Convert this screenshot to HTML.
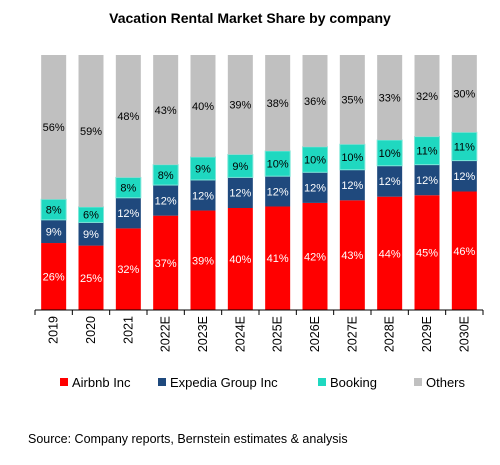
<!DOCTYPE html>
<html><head><meta charset="utf-8"><style>
body{margin:0;background:#fff;font-family:"Liberation Sans",Arial,sans-serif;}
#wrap{position:relative;width:500px;height:460px;}
</style></head><body>
<div id="wrap">
<svg id="chart" width="500" height="460">
<text x="250" y="23" text-anchor="middle" font-weight="bold" font-size="14" fill="#000">Vacation Rental Market Share by company</text>
<g id="bars"></g>
<g id="axis"></g>
<g id="legend"></g>
<text x="28" y="443" font-size="12.5" fill="#000">Source: Company reports, Bernstein estimates &amp; analysis</text>
</svg>
</div>
<script>
const categories=["2019","2020","2021","2022E","2023E","2024E","2025E","2026E","2027E","2028E","2029E","2030E"];
const airbnb=[26,25,32,37,39,40,41,42,43,44,45,46];
const expedia=[9,9,12,12,12,12,12,12,12,12,12,12];
const booking=[8,6,8,8,9,9,10,10,10,10,11,11];
const others=[56,59,48,43,40,39,38,36,35,33,32,30];
const seriesNames=["Airbnb Inc","Expedia Group Inc","Booking","Others"];
const seriesColors=["#ff0000","#1f497d","#1fd8c0","#c0c0c0"];
const labelColors=["#fff","#fff","#000","#000"];
const NS="http://www.w3.org/2000/svg";
const x0=35,x1=483,yBase=310,yTop=55;
const step=(x1-x0)/categories.length,bw=25;
const y=f=>yBase-f*(yBase-yTop);
function mk(t,a,p){const e=document.createElementNS(NS,t);for(const k in a)e.setAttribute(k,a[k]);p.appendChild(e);return e;}
const bars=document.getElementById('bars'),axis=document.getElementById('axis'),legend=document.getElementById('legend');
const data=[airbnb,expedia,booking,others];
categories.forEach((c,i)=>{
  const cx=x0+step*(i+0.5);let cum=0;
  const total=data.reduce((s,d)=>s+d[i],0);
  data.forEach((s,j)=>{
    const v=s[i];const top=y((cum+v)/total),bot=y(cum/total);
    const r=mk('rect',{x:cx-bw/2,y:top,width:bw,height:bot-top,fill:seriesColors[j]},bars);
    if(j==2){r.setAttribute('stroke','#7fe8da');r.setAttribute('stroke-width','1');}
    
    
    const t=mk('text',{x:cx,y:(top+bot)/2+4,'text-anchor':'middle','font-size':'11',fill:labelColors[j]},bars);
    t.textContent=v+'%';
    
    
    cum+=v;
  });
  const tl=mk('text',{transform:`translate(${cx+4},${yBase+6}) rotate(-90)`,'text-anchor':'end','font-size':'12.5',fill:'#000'},axis);
  tl.textContent=c;
  
  
});
const ax=mk('line',{x1:x0,x2:x1,y1:yBase,y2:yBase,stroke:'#000','stroke-width':1},axis);


for(let i=0;i<=categories.length;i++){
  const tx=x0+step*i;
  const tk=mk('line',{x1:tx,x2:tx,y1:yBase,y2:yBase+5,stroke:'#000'},axis);
  
  
}
const lx=[60,158,318,414];
seriesNames.forEach((n,j)=>{
  const g=mk('g',{},legend);
  
  
  mk('rect',{x:lx[j],y:378,width:8,height:8,fill:seriesColors[j]},g);
  const t=mk('text',{x:lx[j]+12,y:387,'font-size':'13',fill:'#000'},g);
  t.textContent=n;
});
</script>
</body></html>
